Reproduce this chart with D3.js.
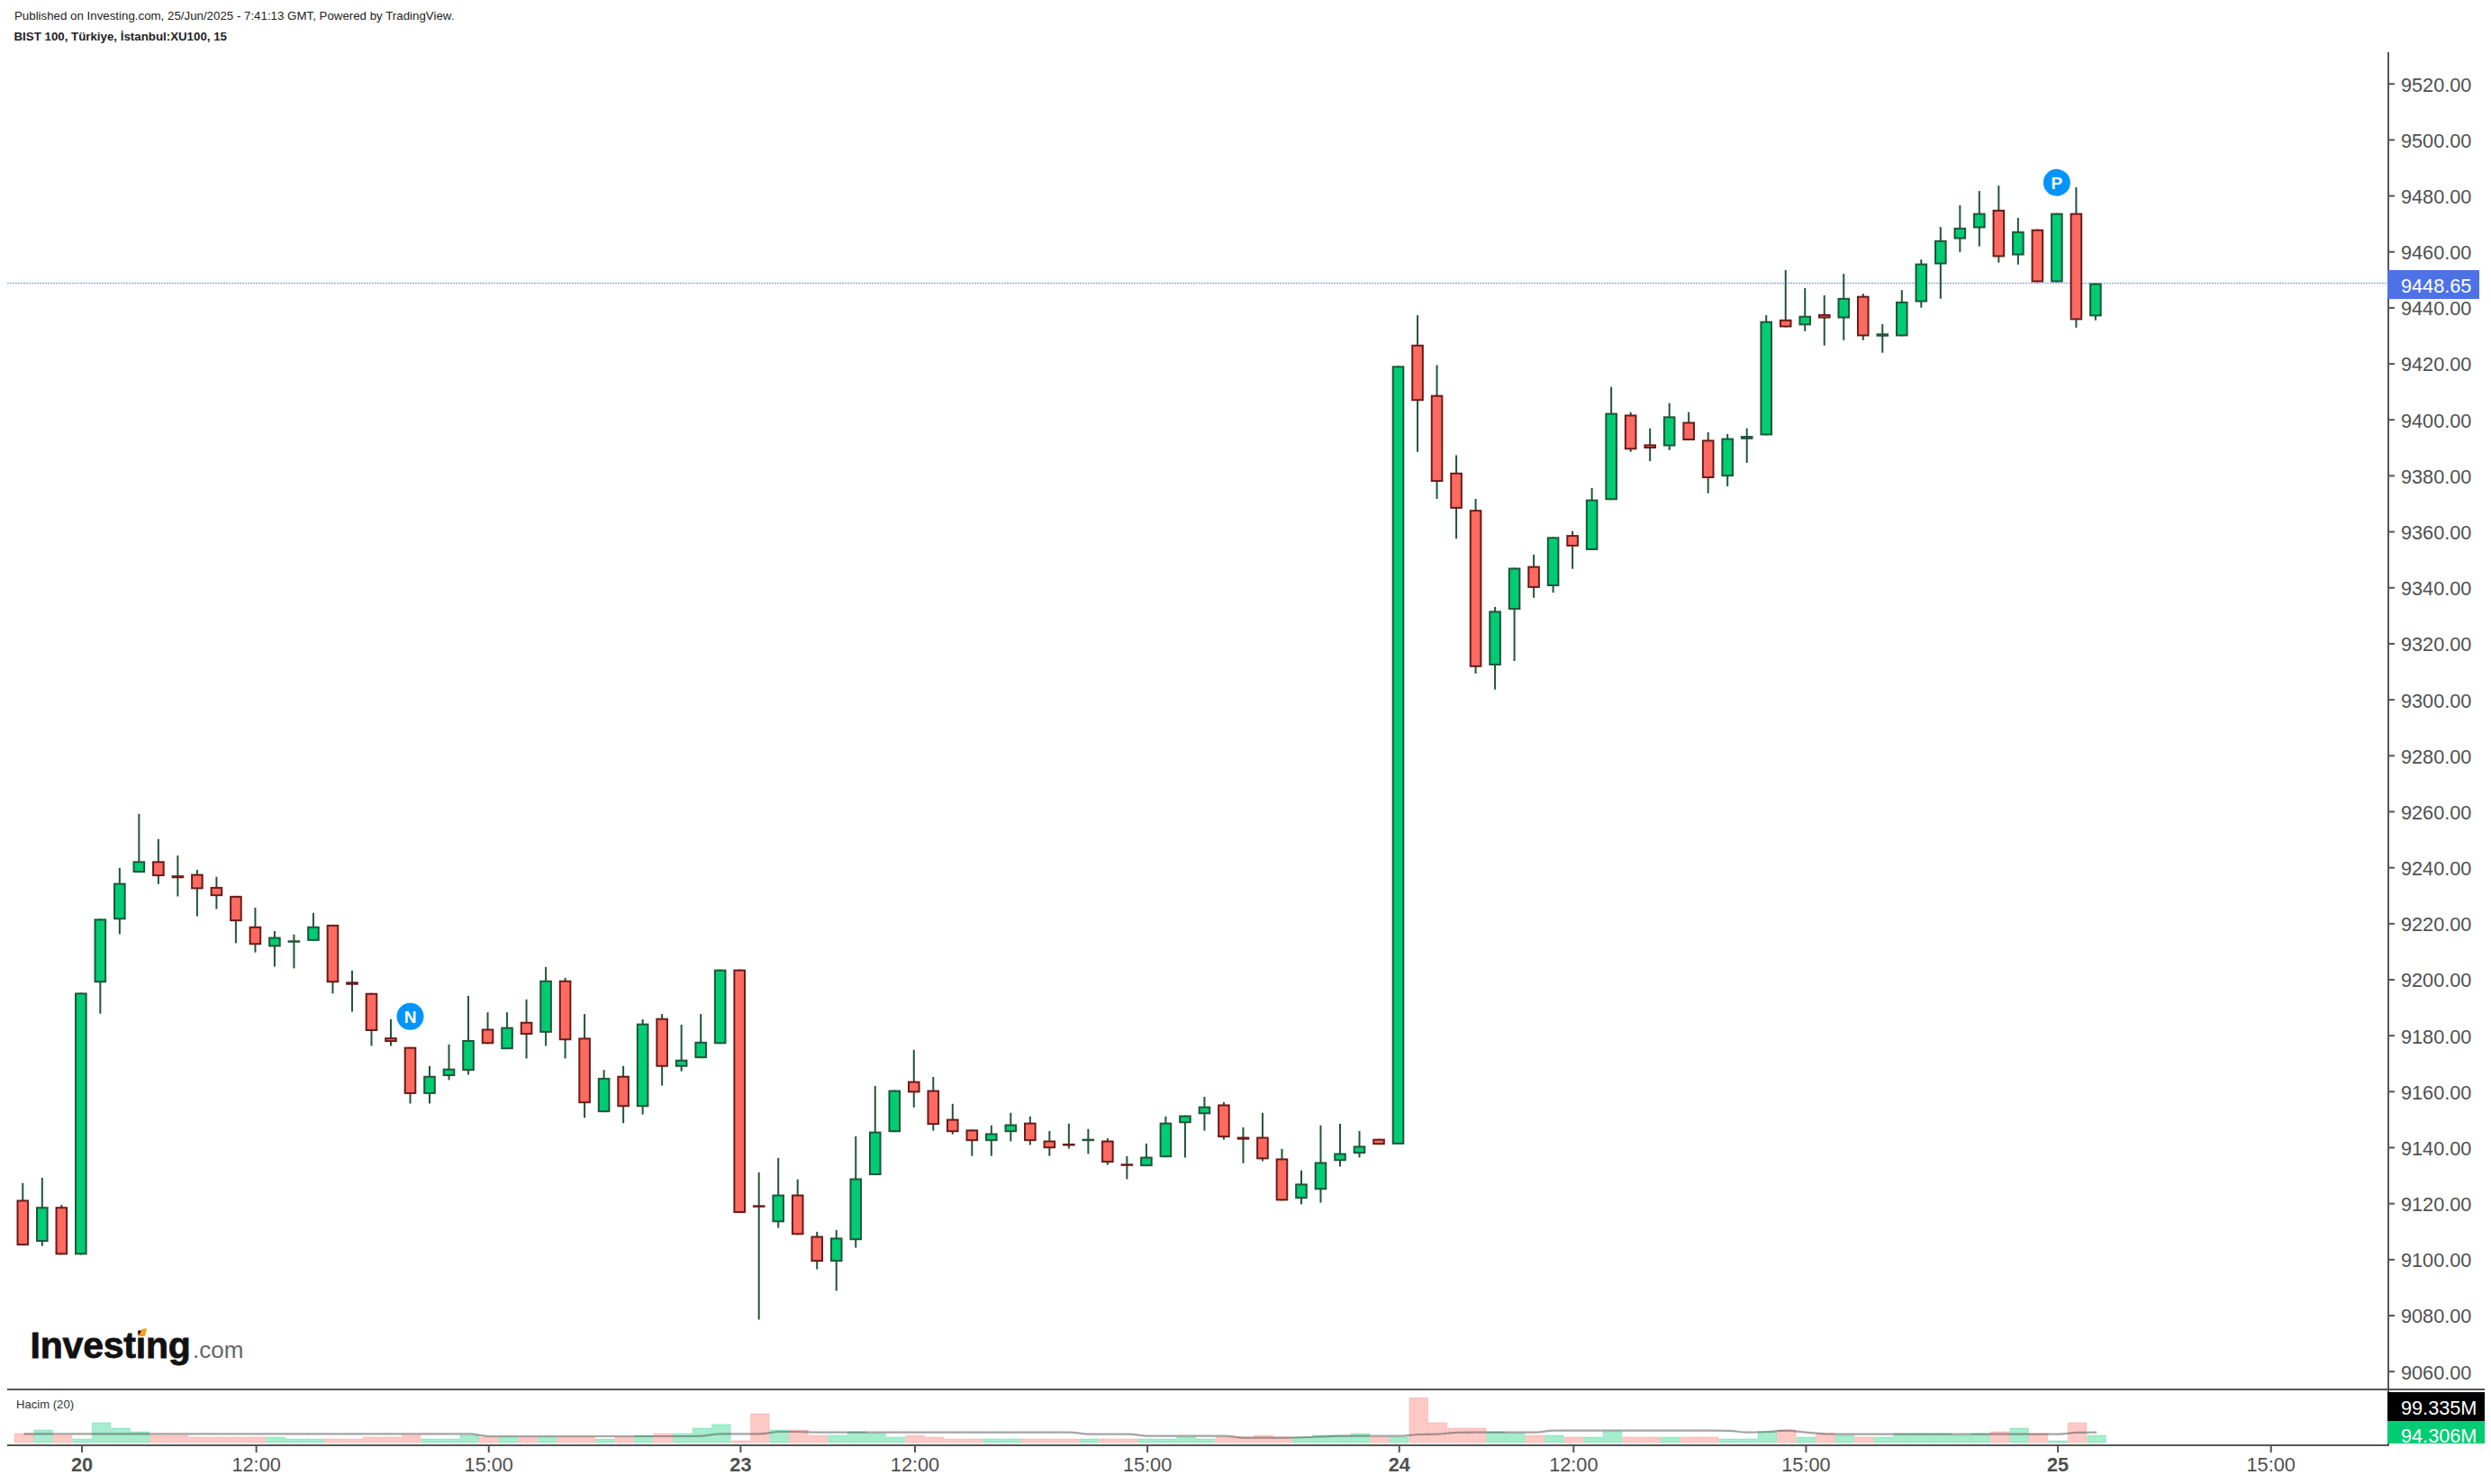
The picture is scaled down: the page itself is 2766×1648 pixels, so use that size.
<!DOCTYPE html>
<html lang="en">
<head>
<meta charset="utf-8">
<script src="https://d3js.org/d3.v7.min.js"></script>
<style type="text/css">

body{
  margin: 0;
  padding: 0;
  background: white;
  font-family: "Liberation Sans", Arial, sans-serif;
}

svg{
  display: block;
}

.axis text{
  font-family: "Liberation Sans", Arial, sans-serif;
  font-size: 21.7px;
  fill: #4f4f4f;
}

.axis line{
  stroke: #555555;
  stroke-width: 2;
}

.axis path{
  display: none;
}

.wick{
  stroke: #20553a;
  stroke-width: 2;
}

.up{
  fill: #00cc73;
  stroke: #20553a;
  stroke-width: 2;
}

.down{
  fill: #ff6a60;
  stroke: #681c1a;
  stroke-width: 2;
}

.vol-up{
  fill: rgba(0,204,115,0.35);
  stroke: rgba(0,204,115,0.25);
}

.vol-down{
  fill: rgba(255,106,96,0.36);
  stroke: rgba(255,106,96,0.25);
}

</style>
</head>
<body>

<div id="chart-container"></div>

<script type="text/javascript">

// candles, 15 minute bars
var opens = [9121.2,9106.2,9118.7,9101.6,9198.8,9221.3,9238.1,9242.2,9237.1,9237.6,9233.0,9229.8,9218.9,9211.6,9213.6,9213.7,9219.5,9199.1,9195.1,9179.2,9175.8,9159.0,9165.4,9167.3,9182.3,9175.0,9184.8,9180.9,9199.6,9179.1,9152.5,9165.5,9154.4,9186.1,9168.7,9171.8,9176.9,9203.5,9119.3,9113.2,9123.1,9108.3,9099.1,9106.8,9130.0,9145.4,9163.6,9160.4,9150.1,9146.3,9142.2,9145.4,9148.8,9142.4,9141.3,9142.2,9142.4,9134.1,9133.2,9136.4,9148.6,9151.8,9155.3,9143.7,9143.7,9136.0,9121.6,9124.8,9135.1,9137.7,9143.0,9141.0,9426.7,9408.7,9381.0,9367.7,9312.1,9332.0,9347.6,9340.4,9358.7,9353.3,9371.2,9401.7,9391.1,9390.4,9399.1,9392.7,9379.6,9392.9,9394.3,9435.7,9433.6,9437.6,9436.1,9444.1,9429.6,9429.7,9441.9,9455.4,9464.4,9468.3,9474.9,9458.6,9467.9,9449.0,9473.7,9436.8];
var highs = [9127.2,9129.1,9119.4,9195.2,9221.6,9239.8,9259.1,9250.1,9244.2,9239.1,9236.6,9229.8,9225.6,9217.2,9216.0,9223.7,9219.5,9203.1,9195.1,9185.7,9175.8,9169.0,9176.7,9194.1,9188.2,9188.2,9192.8,9204.4,9200.5,9187.6,9167.6,9169.0,9185.7,9187.6,9183.8,9187.6,9203.5,9203.5,9131.0,9136.2,9128.5,9109.8,9110.4,9143.9,9161.9,9160.4,9174.8,9165.1,9155.5,9146.3,9147.8,9152.3,9151.0,9145.8,9148.4,9146.5,9143.2,9136.8,9141.3,9151.0,9151.4,9158.0,9156.1,9147.1,9152.3,9139.4,9131.7,9147.8,9148.4,9145.8,9143.0,9419.1,9437.2,9419.4,9387.2,9371.6,9333.0,9347.0,9351.7,9358.0,9360.1,9375.5,9411.6,9402.6,9396.8,9405.8,9402.6,9395.4,9394.8,9396.8,9437.2,9453.3,9446.9,9444.3,9452.0,9444.9,9434.0,9446.2,9457.1,9468.7,9476.5,9481.6,9483.5,9472.0,9467.9,9473.7,9482.9,9448.65];
var lows = [9104.9,9104.7,9101.6,9101.6,9187.7,9216.1,9238.1,9234.0,9229.6,9222.5,9225.1,9212.9,9209.6,9204.5,9203.9,9213.7,9194.9,9188.4,9176.2,9176.2,9155.6,9155.6,9164.0,9165.9,9176.9,9175.0,9171.7,9176.2,9171.7,9150.5,9152.5,9148.6,9151.7,9162.0,9167.1,9171.8,9176.9,9116.5,9078.4,9111.2,9108.7,9096.4,9088.7,9104.1,9130.0,9145.4,9154.2,9145.9,9144.6,9136.9,9136.9,9142.1,9140.8,9136.9,9139.5,9137.6,9133.7,9128.6,9133.2,9136.4,9136.3,9145.9,9142.7,9134.3,9135.0,9120.9,9119.6,9120.2,9133.1,9136.3,9140.9,9141.0,9388.4,9371.6,9357.4,9309.2,9303.5,9313.7,9336.3,9338.1,9346.6,9353.3,9371.2,9388.4,9385.1,9389.0,9392.5,9373.6,9376.1,9384.5,9394.3,9432.9,9431.5,9426.4,9428.3,9428.3,9423.8,9429.7,9439.9,9443.1,9459.8,9461.8,9456.0,9455.3,9449.0,9449.0,9432.8,9435.4];
var closes = [9104.9,9118.7,9101.6,9195.2,9221.6,9234.4,9242.2,9236.8,9236.1,9232.2,9229.7,9220.7,9212.3,9215.1,9213.9,9218.9,9198.8,9198.0,9181.5,9177.6,9159.0,9165.5,9168.1,9178.3,9176.9,9182.9,9180.2,9199.6,9178.2,9155.7,9164.8,9154.4,9184.2,9168.7,9171.3,9177.7,9203.5,9116.5,9118.9,9123.1,9108.7,9099.1,9107.7,9128.9,9145.6,9160.4,9159.5,9148.0,9145.4,9142.2,9145.0,9148.2,9142.2,9139.6,9140.8,9143.0,9134.5,9133.7,9136.6,9148.8,9151.4,9154.6,9143.5,9142.7,9135.7,9120.9,9127.0,9134.7,9137.9,9140.5,9140.9,9419.1,9406.6,9377.7,9368.1,9311.5,9331.6,9347.0,9339.8,9358.0,9354.6,9371.4,9402.3,9389.2,9389.6,9401.1,9392.5,9379.0,9393.3,9394.1,9435.1,9432.9,9437.0,9436.1,9443.4,9429.7,9430.7,9442.1,9455.7,9464.0,9468.5,9473.7,9458.0,9467.2,9449.0,9473.7,9435.5,9448.65];

// volume in millions and its 20 bar average
var volumes = [97.3,103.3,94.3,88.3,115.3,106.3,100.3,94.3,94.3,91.3,91.3,91.3,91.3,91.3,88.3,88.3,88.3,88.3,91.3,91.3,94.3,88.3,88.3,94.3,91.3,91.3,91.3,91.3,91.3,91.3,88.3,91.3,94.3,97.3,97.3,106.3,112.3,85.3,130.3,103.3,103.3,94.3,94.3,100.3,97.3,91.3,94.3,91.3,88.3,88.3,88.3,88.3,88.3,88.3,88.3,88.3,88.3,88.3,88.3,88.3,91.3,88.3,91.3,91.3,94.3,91.3,91.3,94.3,94.3,97.3,91.3,91.3,156.8,115.3,106.3,106.3,100.3,97.3,94.3,94.3,91.3,91.3,100.3,91.3,91.3,91.3,91.3,91.3,88.3,88.3,100.3,103.3,91.3,97.3,94.3,91.3,91.3,97.3,97.3,97.3,94.3,97.3,100.3,106.3,97.3,85.3,115.3,94.306];
var volumeMA = [96.8,96.8,96.8,96.8,96.8,96.8,96.8,96.8,96.8,96.8,96.8,96.8,96.8,96.8,96.8,96.8,96.8,96.8,96.8,96.8,96.8,96.8,96.8,96.8,92.8,92.8,92.8,92.8,92.8,92.8,92.8,92.8,92.8,92.8,92.8,93.5,96.8,96.8,96.8,100.3,100.3,99.3,99.3,99.3,99.3,99.3,99.3,99.3,99.3,99.3,99.3,99.3,99.3,99.3,99.3,96.3,96.3,96.3,93.3,93.3,93.3,93.3,93.3,90.3,90.3,90.3,91.0,92.3,93.3,93.3,93.3,93.3,95.8,96.3,99.0,99.3,99.3,99.3,99.3,102.3,102.3,102.3,102.3,102.3,102.3,102.3,102.3,102.3,102.0,99.3,100.3,102.3,99.3,96.8,96.3,96.3,96.3,96.3,96.3,96.3,96.3,96.3,96.3,96.3,96.3,96.3,99.0,99.335];

// axis labels
var timeTicks = [3,12,24,37,46,58,71,80,92,105,116];
var timeLabels = ["20","12:00","15:00","23","12:00","15:00","24","12:00","15:00","25","15:00"];
var boldLabels = ["20","23","24","25"];
var priceTicks = d3.range(9060, 9521, 20);

var lastPrice = 9448.65;
var maLabel = "99.335M";
var volLabel = "94.306M";

// N and P news flags
var flags = [
  {label: "N", index: 20, price: 9186.7},
  {label: "P", index: 105, price: 9484.6}
];

var width = 2766;
var height = 1648;
var axisX = 2652;
var left = 8;
var paneTop = 1543;
var paneBottom = 1605;
var bodyWidth = 13.6;

var x = d3.scaleLinear().domain([0, 107]).range([25.3, 2326.9]);
// the volume pane and the time axis sit a touch to the right of the candles
var xVol = d3.scaleLinear().domain([0, 107]).range([26.5, 2328.1]);
var xTime = d3.scaleLinear().domain([0, 107]).range([26, 2327.6]);
var y = d3.scaleLinear().domain([9520, 9060]).range([92.7, 1522.7]);
var yVol = d3.scaleLinear().domain([82.3, 156.8]).range([1602, 1552.3]);
var step = x(1) - x(0);

var svg = d3.select("#chart-container")
  .append("svg")
  .attr("width", width)
  .attr("height", height);

// header
svg.append("text")
  .attr("x", 16)
  .attr("y", 22)
  .style("font-size", "13.3px")
  .style("fill", "#222")
  .text("Published on Investing.com, 25/Jun/2025 - 7:41:13 GMT, Powered by TradingView.");

svg.append("text")
  .attr("x", 15.5)
  .attr("y", 45)
  .style("font-size", "13.3px")
  .style("font-weight", "bold")
  .style("fill", "#222")
  .text("BIST 100, Türkiye, İstanbul:XU100, 15");

// last price line, sits behind the candles
svg.append("line")
  .attr("x1", left)
  .attr("x2", axisX + 5)
  .attr("y1", y(lastPrice))
  .attr("y2", y(lastPrice))
  .style("stroke", "#94aaee")
  .style("stroke-width", 1.5)
  .style("stroke-dasharray", "2 1");

// candles
var idx = d3.range(opens.length);

svg.selectAll(".wick")
  .data(idx)
  .enter()
  .append("line")
  .attr("class", "wick")
  .attr("x1", function(i) { return x(i); })
  .attr("x2", function(i) { return x(i); })
  .attr("y1", function(i) { return y(highs[i]); })
  .attr("y2", function(i) { return y(lows[i]); });

svg.selectAll(".body")
  .data(idx)
  .enter()
  .append("rect")
  .attr("class", function(i) { return closes[i] >= opens[i] ? "up" : "down"; })
  .attr("x", function(i) { return x(i) - bodyWidth / 2 + 1; })
  .attr("width", bodyWidth - 2)
  // stroke is centred on the edge so pull it in by 1px to keep the outer edge on the price
  .attr("y", function(i) { return y(Math.max(opens[i], closes[i])) + 1; })
  .attr("height", function(i) { return Math.max(0.5, Math.abs(y(opens[i]) - y(closes[i])) - 2); });

// flags
var flag = svg.selectAll(".flag")
  .data(flags)
  .enter()
  .append("g")
  .attr("transform", function(d) { return "translate(" + x(d.index) + "," + y(d.price) + ")"; });

flag.append("circle")
  .attr("r", 15)
  .style("fill", "#0094ff");

flag.append("text")
  .attr("text-anchor", "middle")
  .attr("y", 7)
  .style("font-size", "19px")
  .style("font-weight", "bold")
  .style("fill", "white")
  .text(function(d) { return d.label; });

// logo
svg.append("text")
  .attr("x", 33.5)
  .attr("y", 1508)
  .style("font-size", "41px")
  .style("font-weight", "bold")
  .style("letter-spacing", "-0.2px")
  .style("fill", "#111")
  .style("stroke", "#111")
  .style("stroke-width", 0.8)
  .text("Investing");

svg.append("text")
  .attr("x", 214)
  .attr("y", 1508)
  .style("font-size", "26px")
  .style("fill", "#666")
  .text(".com");

svg.append("path")
  .attr("d", "M153.5 1484 L158 1476 L163 1475 L161 1484 Z")
  .style("fill", "#f9a01b");

// volume pane
svg.append("text")
  .attr("x", 18)
  .attr("y", 1564)
  .style("font-size", "13.1px")
  .style("fill", "#333")
  .text("Hacim (20)");

svg.selectAll(".vol")
  .data(idx)
  .enter()
  .append("rect")
  .attr("class", function(i) { return closes[i] >= opens[i] ? "vol-up" : "vol-down"; })
  .attr("x", function(i) { return xVol(i) - step / 2 + 0.5; })
  .attr("width", step - 1)
  .attr("y", function(i) { return yVol(volumes[i]); })
  .attr("height", function(i) { return yVol(82.3) - yVol(volumes[i]); });

var maLine = d3.line()
  .x(function(d, i) { return xVol(i); })
  .y(function(d) { return yVol(d); })
  .curve(d3.curveMonotoneX);

svg.append("path")
  .datum(volumeMA)
  .attr("d", maLine)
  .style("fill", "none")
  .style("stroke", "rgba(90,90,90,0.55)")
  .style("stroke-width", 2.2);

// frame lines
svg.append("line")
  .attr("x1", left).attr("x2", 2759)
  .attr("y1", paneTop).attr("y2", paneTop)
  .style("stroke", "#555").style("stroke-width", 2);

svg.append("line")
  .attr("x1", left).attr("x2", axisX + 1)
  .attr("y1", paneBottom).attr("y2", paneBottom)
  .style("stroke", "#555").style("stroke-width", 2);

svg.append("line")
  .attr("x1", axisX).attr("x2", axisX)
  .attr("y1", 58).attr("y2", paneBottom + 1)
  .style("stroke", "#555").style("stroke-width", 2);

// axes
var priceAxis = d3.axisRight(y)
  .tickValues(priceTicks)
  .tickSize(7)
  .tickPadding(7)
  .tickFormat(d3.format(".2f"));

svg.append("g")
  .attr("class", "axis")
  .attr("transform", "translate(" + axisX + ",0)")
  .call(priceAxis)
  .selectAll("text")
  .attr("dy", "8.4px");

var timeAxis = d3.axisBottom(xTime)
  .tickValues(timeTicks)
  .tickSize(8)
  .tickPadding(6)
  .tickFormat(function(d, i) { return timeLabels[i]; });

svg.append("g")
  .attr("class", "axis")
  .attr("transform", "translate(0," + paneBottom + ")")
  .call(timeAxis)
  .selectAll("text")
  .style("font-weight", function(d, i) { return boldLabels.indexOf(timeLabels[i]) >= 0 ? "bold" : "normal"; });

// value labels on the right
function valueLabel(y0, h, colour, text, textY) {
  svg.append("rect")
    .attr("x", axisX - 1)
    .attr("y", y0)
    .attr("width", 2759 - axisX + 1)
    .attr("height", h)
    .style("fill", colour);
  svg.append("text")
    .attr("x", 2666)
    .attr("y", textY)
    .style("font-size", "21.7px")
    .style("fill", "white")
    .text(text);
}

valueLabel(1546, 32, "#000000", maLabel, 1571);
valueLabel(1578, 25, "#00cc73", volLabel, 1602);

svg.append("rect")
  .attr("x", axisX - 1)
  .attr("y", 300)
  .attr("width", 102)
  .attr("height", 32)
  .style("fill", "#4c72e6");

svg.append("text")
  .attr("x", 2666)
  .attr("y", 324.5)
  .style("font-size", "21.7px")
  .style("fill", "white")
  .text(d3.format(".2f")(lastPrice));

</script>
</body>
</html>
